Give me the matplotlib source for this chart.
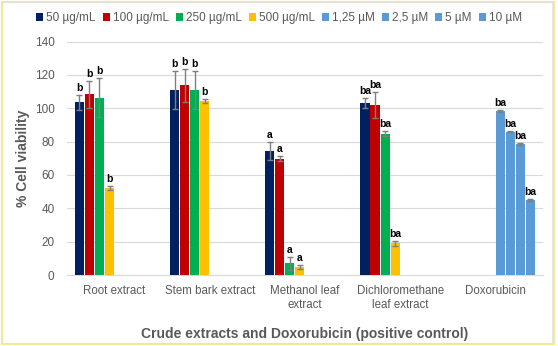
import matplotlib
matplotlib.use("Agg")
import matplotlib.pyplot as plt
from matplotlib.patches import Rectangle
import numpy as np

plt.rcParams['font.family'] = ['Liberation Sans', 'DejaVu Sans']

categories = ["Root extract", "Stem bark extract", "Methanol leaf\nextract",
              "Dichloromethane\nleaf extract", "Doxorubicin"]
series_names = ["50 µg/mL", "100 µg/mL", "250 µg/mL", "500 µg/mL",
                "1,25 µM", "2,5 µM", "5 µM", "10 µM"]
colors = ["#002060", "#C00000", "#00B050", "#FFC000",
          "#5B9BD5", "#5B9BD5", "#5B9BD5", "#5B9BD5"]

# values per series across the 5 categories (None = no bar)
s50   = [103.6, 111.0, 74.4, 103.4, None]
s100  = [108.4, 113.8, 69.6, 101.8, None]
s250  = [106.4, 111.0, 7.0, 84.6, None]
s500  = [52.2, 104.6, 5.0, 19.0, None]
d125  = [None, None, None, None, 98.4]
d25   = [None, None, None, None, 86.0]
d5    = [None, None, None, None, 78.6]
d10   = [None, None, None, None, 44.8]

e50   = [4.5, 11.4, 5.6, 3.0, None]
e100  = [8.0, 10.0, 1.5, 7.8, None]
e250  = [11.6, 11.4, 4.0, 1.5, None]
e500  = [1.0, 1.2, 1.2, 1.5, None]
ed125 = [None, None, None, None, 0.5]
ed25  = [None, None, None, None, 0.5]
ed5   = [None, None, None, None, 0.5]
ed10  = [None, None, None, None, 0.5]

l50   = ["b", "b", "a", "ba", None]
l100  = ["b", "b", "a", "ba", None]
l250  = ["b", "b", "a", "ba", None]
l500  = ["b", "b", "a", "ba", None]
ld125 = [None, None, None, None, "ba"]
ld25  = [None, None, None, None, "ba"]
ld5   = [None, None, None, None, "ba"]
ld10  = [None, None, None, None, "ba"]

values = [s50, s100, s250, s500, d125, d25, d5, d10]
errors = [e50, e100, e250, e500, ed125, ed25, ed5, ed10]
letters = [l50, l100, l250, l500, ld125, ld25, ld5, ld10]

fig = plt.figure(figsize=(5.58, 3.46), dpi=100)
fig.patch.set_facecolor("white")
# frame borders
fig.patches.append(Rectangle((0.004, 0.006), 0.989, 0.988, transform=fig.transFigure,
                             fill=False, edgecolor="#F3EB8F", linewidth=1.5))
fig.patches.append(Rectangle((0.002, 0.009), 0.988, 0.985, transform=fig.transFigure,
                             fill=False, edgecolor="#E0E0E0", linewidth=0.6))

ax = fig.add_axes([0.120, 0.205, 0.853, 0.675])

slot = 0.1055
bw = 0.096
x = np.arange(len(categories))
for i, (vals, errs, labs, col, name) in enumerate(zip(values, errors, letters, colors, series_names)):
    offs = (i - 3.5) * slot
    xs = [xi + offs for xi, v in zip(x, vals) if v is not None]
    vs = [v for v in vals if v is not None]
    es = [e for e in errs if e is not None]
    ls = [l for l in labs if l is not None]
    ax.bar(xs, vs, width=bw, color=col, label=name, zorder=3)
    ax.errorbar(xs, vs, yerr=es, fmt="none", ecolor="#7F7F7F", elinewidth=1,
                capsize=2.5, capthick=1, zorder=4)
    for xx, v, e, l in zip(xs, vs, es, ls):
        ax.text(xx, v + e + 1.2, l, ha="center", va="bottom", fontsize=7.5,
                fontweight="bold", color="black", zorder=5)

ax.set_xlim(-0.5, len(categories) - 0.5)
ax.set_ylim(0, 140)
ax.set_yticks(np.arange(0, 141, 20))
ax.yaxis.grid(True, color="#D9D9D9", linewidth=0.8, zorder=0)
ax.set_axisbelow(True)
for sp in ["top", "right", "left"]:
    ax.spines[sp].set_visible(False)
ax.spines["bottom"].set_color("#D9D9D9")
ax.tick_params(axis="y", length=0, labelsize=8.5, colors="#595959", pad=9)
ax.tick_params(axis="x", length=0, labelsize=8.3, colors="#595959", pad=7)
ax.set_xticks(x)
ax.set_xticklabels(categories, fontsize=8.3, color="#595959", linespacing=1.3)
ax.set_ylabel("% Cell viability", fontsize=10, fontweight="bold", color="#595959", labelpad=3)
ax.set_xlabel("Crude extracts and Doxorubicin (positive control)", fontsize=10,
              fontweight="bold", color="#595959", labelpad=11)

handles, labs = ax.get_legend_handles_labels()
leg = fig.legend(handles, labs, loc="center", bbox_to_anchor=(0.5, 0.948), ncol=8,
                 frameon=False, fontsize=8.5, handlelength=0.6, handleheight=0.6,
                 handletextpad=0.25, columnspacing=0.6, labelcolor="#595959")

fig.savefig("out.png", dpi=100)
